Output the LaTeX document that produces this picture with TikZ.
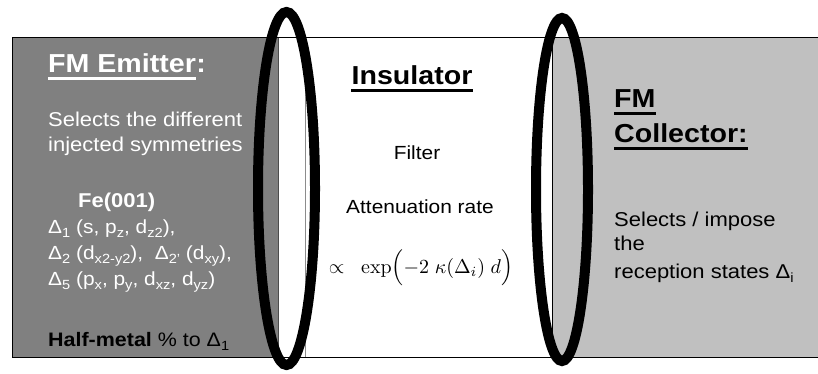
\documentclass[tikz,border=0pt]{standalone}
\usepackage{graphicx}
\usepackage[no-math]{fontspec}
\setmainfont{Liberation Sans}[FakeStretch=1.1]
\newcommand\fsz[1]{\fontsize{#1}{#1}\selectfont}
\newcommand\sbs[1]{\raisebox{-0.22em}{\fontsize{13.3}{13.3}\selectfont #1}}
\definecolor{dkgray}{HTML}{808080}
\definecolor{ltgray}{HTML}{C0C0C0}
\begin{document}
\begin{tikzpicture}[x=1pt,y=-1pt,
  txt/.style={inner sep=0pt, anchor=base west, font=\fsz{20}},
  wtxt/.style={txt, text=white},
  ttl/.style={inner sep=0pt, anchor=base west, font=\bfseries\fsz{26}},
  ctxt/.style={inner sep=0pt, anchor=base, font=\fsz{19}},
  ulin/.style={line width=3pt},
  ring/.style={draw=black, line width=10pt}]
\path[use as bounding box] (0,0) rectangle (818,374);
\fill[white] (0,0) rectangle (818,374);
% regions
\fill[dkgray] (12,38) rectangle (278,357);
\fill[ltgray] (552,38) rectangle (818,357);
\draw[black, line width=1pt] (818,38) -- (12,38) -- (12,357) -- (818,357);
\draw[black!70, line width=0.6pt] (278,38) -- (278,357);
\draw[black!45, line width=0.8pt] (305,38) -- (305,357);
\draw[black, line width=0.8pt] (552,38) -- (552,357);
% left box
\node[ttl, text=white] (fme) at (48,73) {FM Emitter};
\node[ttl, text=white] (fmec) at (fme.base east) {:};
\draw[ulin, white] ([yshift=-5.5pt]fme.base west) -- ([yshift=-5.5pt]fme.base east);
\node[wtxt] (sel1) at (48,127) {Selects the different};
\node[wtxt] (sel2) at (48,152) {injected symmetries};
\node[wtxt, font=\bfseries\fsz{20}] (fe) at (78,207) {Fe(001)};
\node[wtxt, font=\fsz{19}] (d1) at (48,233) {Δ\sbs{1} (s, p\sbs{z}, d\sbs{z2}),};
\node[wtxt, font=\fsz{19}] (d2) at (48,259) {Δ\sbs{2} (d\sbs{x2-y2}), \ Δ\sbs{2'} (d\sbs{xy}),};
\node[wtxt, font=\fsz{19}] (d5) at (48,285) {Δ\sbs{5} (p\sbs{x}, p\sbs{y}, d\sbs{xz}, d\sbs{yz})};
\node[txt, font=\fsz{19.5}] (hm) at (48,346) {\textbf{Half-metal} \% to Δ\sbs{1}};
% insulator
\node[ttl, anchor=base] (ins) at (412,85) {Insulator};
\draw[ulin, black] ([yshift=-6pt]ins.base west) -- ([yshift=-6pt]ins.base east);
\node[ctxt] (flt) at (417,160) {Filter};
\node[ctxt] (att) at (420,213) {Attenuation rate};
\node[ctxt, font=\normalsize] (frm) at (421,273) {\scalebox{2.0}{$\propto\;\; \exp\Bigl(-2\;\kappa(\Delta_i)\;d\Bigr)$}};
% collector
\node[ttl] (fm) at (614,108) {FM};
\draw[ulin, black] ([yshift=-5.5pt]fm.base west) -- ([yshift=-5.5pt]fm.base east);
\node[ttl] (col) at (614,143) {Collector:};
\draw[ulin, black] ([yshift=-5.5pt]col.base west) -- ([yshift=-5.5pt]col.base east);
\node[txt] (s1) at (614,226) {Selects / impose};
\node[txt] (s2) at (614,250) {the};
\node[txt] (s3) at (614,278) {reception states Δ\sbs{i}};
% rings
\draw[ring] (286.5,188.5) ellipse [x radius=28.5, y radius=176.5];
\draw[ring] (562,189.5) ellipse [x radius=26, y radius=171.5];
\end{tikzpicture}
\end{document}
